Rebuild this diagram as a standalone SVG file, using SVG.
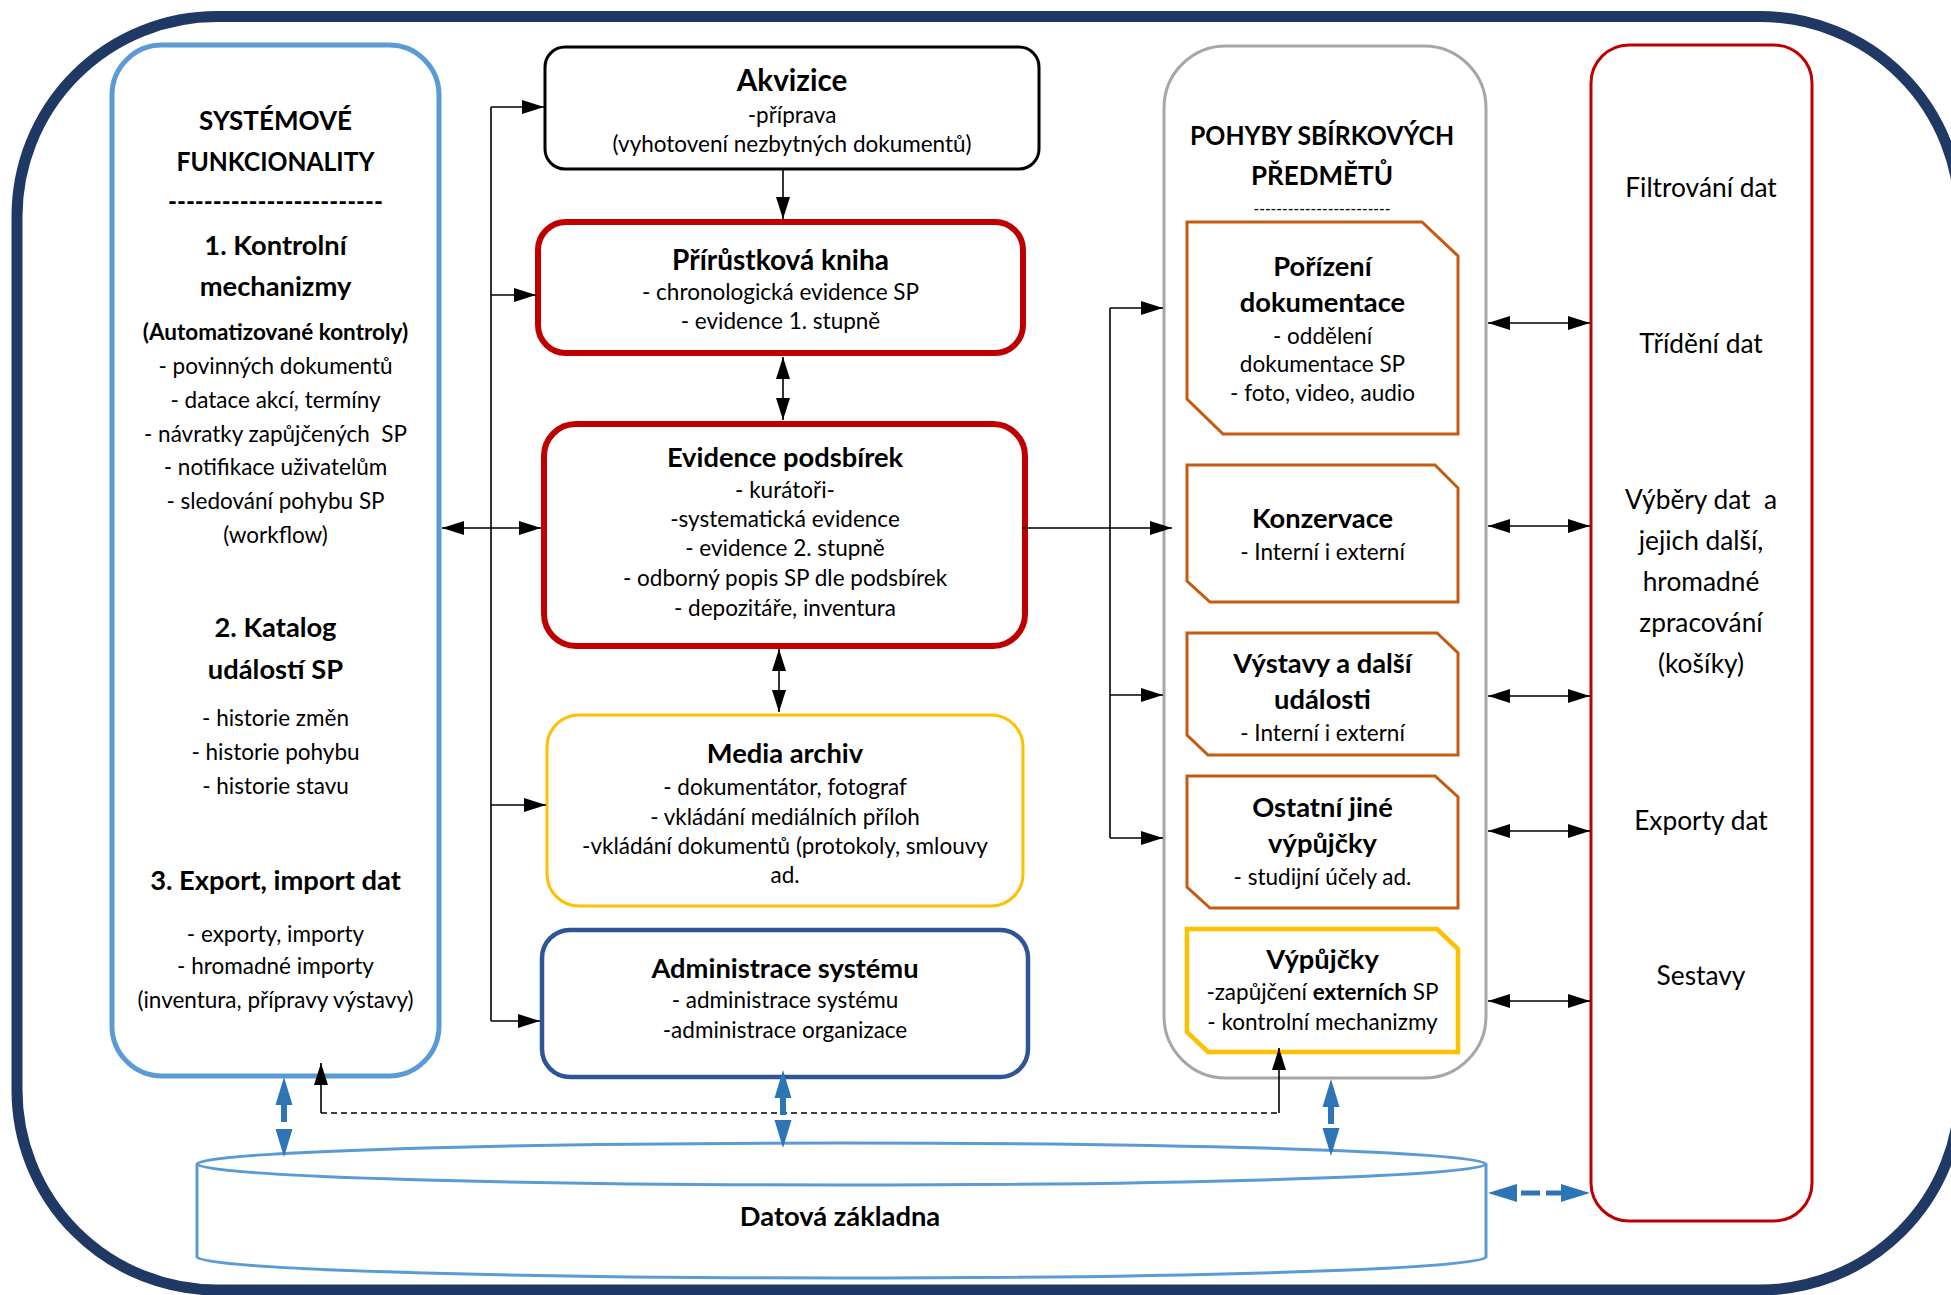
<svg xmlns="http://www.w3.org/2000/svg" width="1951" height="1295" viewBox="0 0 1951 1295">
<style>
.t{font-family:Lato,'Open Sans',sans-serif;fill:#000;text-anchor:middle}
.b{font-weight:bold}
.body{font-size:22.5px}
.h{font-size:27.3px;font-weight:bold}
.hb{font-size:29.6px;font-weight:bold}
.cap{font-size:26px;font-weight:bold}
.rt{font-size:26.3px}
.ln{stroke:#000;stroke-width:1.6;fill:none}
.bl{fill:#2E75B6}
.or{fill:#fff;stroke:#C55A11;stroke-width:3}
</style>
<defs>
<marker id="ah" markerUnits="userSpaceOnUse" markerWidth="22" markerHeight="14" refX="22" refY="7" orient="auto-start-reverse"><path d="M0,0 L22,7 L0,14 z" fill="#000"/></marker>
</defs>
<rect width="1951" height="1295" fill="#fff"/>
<g id="frame"><rect x="17" y="16.5" width="1943" height="1273.5" rx="200" ry="200" fill="none" stroke="#203864" stroke-width="11"/></g>

<g id="systemove">
<rect x="112" y="45" width="327" height="1031" rx="50" fill="#fff" stroke="#5B9BD5" stroke-width="5"/>
<text class="t cap" x="275.5" y="130">SYSTÉMOVÉ</text>
<text class="t cap" x="275.5" y="171" textLength="198" lengthAdjust="spacingAndGlyphs">FUNKCIONALITY</text>
<text class="t b" x="275.5" y="211" font-size="26" textLength="215" lengthAdjust="spacingAndGlyphs">------------------------</text>
<text class="t h" x="275.5" y="255">1. Kontrolní</text>
<text class="t h" x="275.5" y="296">mechanizmy</text>
<text class="t b body" x="275.5" y="340">(Automatizované kontroly)</text>
<text class="t body" x="275.5" y="374">- povinných dokumentů</text>
<text class="t body" x="275.5" y="408">- datace akcí, termíny</text>
<text class="t body" x="275.5" y="442" xml:space="preserve">- návratky zapůjčených  SP</text>
<text class="t body" x="275.5" y="475">- notifikace uživatelům</text>
<text class="t body" x="275.5" y="509">- sledování pohybu SP</text>
<text class="t body" x="275.5" y="543">(workflow)</text>
<text class="t h" x="275.5" y="637">2. Katalog</text>
<text class="t h" x="275.5" y="679">událostí SP</text>
<text class="t body" x="275.5" y="726">- historie změn</text>
<text class="t body" x="275.5" y="760">- historie pohybu</text>
<text class="t body" x="275.5" y="794">- historie stavu</text>
<text class="t h" x="275.5" y="890">3. Export, import dat</text>
<text class="t body" x="275.5" y="942">- exporty, importy</text>
<text class="t body" x="275.5" y="974">- hromadné importy</text>
<text class="t body" x="275.5" y="1008">(inventura, přípravy výstavy)</text>
</g>

<g id="akvizice">
<rect x="545" y="47" width="494" height="122" rx="20" fill="#fff" stroke="#000" stroke-width="3"/>
<text class="t hb" x="792" y="91">Akvizice</text>
<text class="t body" x="792" y="123">-příprava</text>
<text class="t body" x="792" y="152">(vyhotovení nezbytných dokumentů)</text>
</g>

<g id="prirustkova">
<rect x="538" y="222" width="485" height="131" rx="28" fill="#fff" stroke="#C00000" stroke-width="6"/>
<text class="t b" x="780.5" y="270" font-size="28">Přírůstková kniha</text>
<text class="t body" x="780.5" y="300">- chronologická evidence SP</text>
<text class="t body" x="780.5" y="329">- evidence 1. stupně</text>
</g>

<g id="evidence">
<rect x="544" y="424" width="481" height="222" rx="32" fill="#fff" stroke="#C00000" stroke-width="6"/>
<text class="t h" x="785" y="467">Evidence podsbírek</text>
<text class="t body" x="785" y="498">- kurátoři-</text>
<text class="t body" x="785" y="527">-systematická evidence</text>
<text class="t body" x="785" y="556">- evidence 2. stupně</text>
<text class="t body" x="785" y="586">- odborný popis SP dle podsbírek</text>
<text class="t body" x="785" y="616">- depozitáře, inventura</text>
</g>

<g id="media">
<rect x="547" y="715" width="476" height="191" rx="32" fill="#fff" stroke="#FFC000" stroke-width="3"/>
<text class="t h" x="785" y="763">Media archiv</text>
<text class="t body" x="785" y="795">- dokumentátor, fotograf</text>
<text class="t body" x="785" y="825">- vkládání mediálních příloh</text>
<text class="t body" x="785" y="854">-vkládání dokumentů (protokoly, smlouvy</text>
<text class="t body" x="785" y="883">ad.</text>
</g>

<g id="admin">
<rect x="542" y="930" width="486" height="147" rx="28" fill="#fff" stroke="#2F5597" stroke-width="4.5"/>
<text class="t h" x="785" y="978">Administrace systému</text>
<text class="t body" x="785" y="1008">- administrace systému</text>
<text class="t body" x="785" y="1038">-administrace organizace</text>
</g>

<g id="pohyby">
<rect x="1164" y="46" width="322" height="1032" rx="62" fill="#fff" stroke="#A6A6A6" stroke-width="3"/>
<text class="t cap" x="1322" y="145" textLength="264" lengthAdjust="spacingAndGlyphs">POHYBY SBÍRKOVÝCH</text>
<text class="t cap" x="1322" y="185">PŘEDMĚTŮ</text>
<text class="t" x="1322" y="215" font-size="17" textLength="137" lengthAdjust="spacingAndGlyphs">------------------------</text>
</g>

<g id="porizeni">
<path class="or" d="M1187,222 H1422 L1458,256 V434 H1223 L1187,399 Z"/>
<text class="t h" x="1322.5" y="276">Pořízení</text>
<text class="t h" x="1322.5" y="312">dokumentace</text>
<text class="t body" x="1322.5" y="344">- oddělení</text>
<text class="t body" x="1322.5" y="372">dokumentace SP</text>
<text class="t body" x="1322.5" y="401">- foto, video, audio</text>
</g>

<g id="konzervace">
<path class="or" d="M1187,465 H1435 L1458,488 V602 H1210 L1187,581 Z"/>
<text class="t h" x="1322.5" y="528">Konzervace</text>
<text class="t body" x="1322.5" y="560">- Interní i externí</text>
</g>

<g id="vystavy">
<path class="or" d="M1187,633 H1437 L1458,653 V755 H1208 L1187,735 Z"/>
<text class="t h" x="1322.5" y="673">Výstavy a další</text>
<text class="t h" x="1322.5" y="709">události</text>
<text class="t body" x="1322.5" y="741">- Interní i externí</text>
</g>

<g id="ostatni">
<path class="or" d="M1187,776 H1435 L1458,797 V908 H1210 L1187,887 Z"/>
<text class="t h" x="1322.5" y="817">Ostatní jiné</text>
<text class="t h" x="1322.5" y="853">výpůjčky</text>
<text class="t body" x="1322.5" y="885">- studijní účely ad.</text>
</g>

<g id="vypujcky">
<path d="M1187,929 H1437 L1458,949 V1052 H1208 L1187,1032 Z" fill="#fff" stroke="#FFC000" stroke-width="4.5"/>
<text class="t h" x="1322.5" y="969">Výpůjčky</text>
<text class="t body" x="1322.5" y="1000">-zapůjčení <tspan font-weight="bold">externích</tspan> SP</text>
<text class="t body" x="1322.5" y="1030">- kontrolní mechanizmy</text>
</g>

<g id="funkce">
<rect x="1591" y="45" width="221" height="1176" rx="38" fill="#fff" stroke="#C00000" stroke-width="3"/>
<text class="t rt" x="1701" y="197">Filtrování dat</text>
<text class="t rt" x="1701" y="353">Třídění dat</text>
<text class="t rt" x="1701" y="509" xml:space="preserve">Výběry dat  a</text>
<text class="t rt" x="1701" y="550">jejich další,</text>
<text class="t rt" x="1701" y="591">hromadné</text>
<text class="t rt" x="1701" y="632">zpracování</text>
<text class="t rt" x="1701" y="673">(košíky)</text>
<text class="t rt" x="1701" y="830">Exporty dat</text>
<text class="t rt" x="1701" y="985">Sestavy</text>
</g>

<g id="databaze">
<path d="M197,1164 V1257 A644.5,21 0 0 0 1486,1257 V1164" fill="#fff" stroke="#5B9BD5" stroke-width="3"/>
<ellipse cx="841.5" cy="1164" rx="644.5" ry="21" fill="#fff" stroke="#5B9BD5" stroke-width="3"/>
<text class="t h" x="840" y="1226">Datová základna</text>
</g>

<g id="connectors">
<path class="ln" d="M491,107 V1021"/>
<path class="ln" d="M491,107 H544" marker-end="url(#ah)"/>
<path class="ln" d="M491,295 H536" marker-end="url(#ah)"/>
<path class="ln" d="M442,528 H541" marker-start="url(#ah)" marker-end="url(#ah)"/>
<path class="ln" d="M491,805 H546" marker-end="url(#ah)"/>
<path class="ln" d="M491,1021 H540" marker-end="url(#ah)"/>
<path class="ln" d="M783,169 V219" marker-end="url(#ah)"/>
<path class="ln" d="M783,357 V420" marker-start="url(#ah)" marker-end="url(#ah)"/>
<path class="ln" d="M779,649 V712" marker-start="url(#ah)" marker-end="url(#ah)"/>
<path class="ln" d="M1022,528 H1172" marker-end="url(#ah)"/>
<path class="ln" d="M1110,308 V838"/>
<path class="ln" d="M1110,308 H1163" marker-end="url(#ah)"/>
<path class="ln" d="M1110,695 H1163" marker-end="url(#ah)"/>
<path class="ln" d="M1110,838 H1163" marker-end="url(#ah)"/>
<path class="ln" d="M1488,323 H1590" marker-start="url(#ah)" marker-end="url(#ah)"/>
<path class="ln" d="M1488,526 H1590" marker-start="url(#ah)" marker-end="url(#ah)"/>
<path class="ln" d="M1488,696 H1590" marker-start="url(#ah)" marker-end="url(#ah)"/>
<path class="ln" d="M1488,831 H1590" marker-start="url(#ah)" marker-end="url(#ah)"/>
<path class="ln" d="M1488,1001 H1590" marker-start="url(#ah)" marker-end="url(#ah)"/>
<path d="M321,1113 H1279" fill="none" stroke="#000" stroke-width="1.4" stroke-dasharray="6 4"/>
<path class="ln" d="M321,1113 V1063" marker-end="url(#ah)"/>
<path class="ln" d="M1279,1113 V1048" marker-end="url(#ah)"/>
<path class="bl" d="M284,1077 L292.5,1105 L287,1105 L287,1122 L281,1122 L281,1105 L275.5,1105 Z M275.5,1129 L292.5,1129 L284,1157 Z"/>
<path class="bl" d="M783,1070 L791.5,1098 L786,1098 L786,1115 L780,1115 L780,1098 L774.5,1098 Z M774.5,1120 L791.5,1120 L783,1148 Z"/>
<path class="bl" d="M1331,1079 L1339.5,1107 L1334,1107 L1334,1124 L1328,1124 L1328,1107 L1322.5,1107 Z M1322.5,1128 L1339.5,1128 L1331,1156 Z"/>
<path class="bl" d="M1488,1193 L1517,1184 L1517,1202 Z M1521,1190.5 H1540 V1195.5 H1521 Z M1546,1190.5 H1561 V1195.5 H1546 Z M1590,1193 L1561,1184 L1561,1202 Z"/>
</g>
</svg>
